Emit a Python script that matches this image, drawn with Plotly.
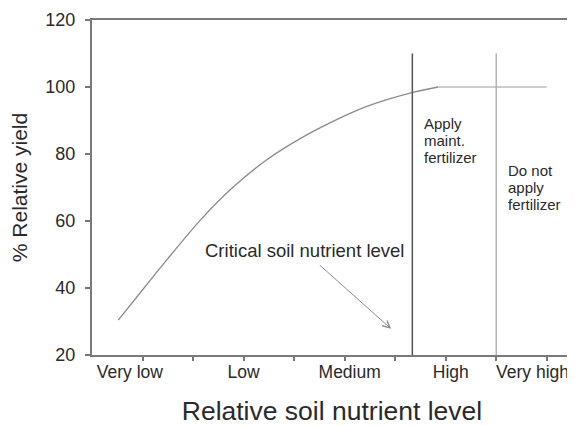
import plotly.graph_objects as go

# ---- data ----
curve_x = [0.52, 1.03, 1.48, 2.14, 2.80, 3.46, 4.12, 4.78, 5.44, 6.33, 6.85]
curve_y = [30.4, 40.0, 48.4, 60.2, 70.2, 78.3, 84.6, 89.8, 94.2, 98.3, 100.0]
plateau_x = [6.85, 9.0]
plateau_y = [100, 100]
critical_x = 6.34
maint_x = 8.0
boundary_y = [20, 110]
minor_ticks = [1, 2, 3, 4, 5, 6, 7, 8, 9]
cat_pos = [0.75, 3.0, 5.1, 7.1, 8.72]
cat_labels = ["Very low", "Low", "Medium", "High", "Very high"]
y_ticks = [20, 40, 60, 80, 100, 120]
apply_lines = ["Apply", "maint.", "fertilizer"]
apply_y = [89.25, 84.03, 78.81]
donot_lines = ["Do not", "apply", "fertilizer"]
donot_y = [75.22, 70.0, 64.78]

FONT = "Liberation Sans, Arial, sans-serif"
TXT = "#2a2a2a"

fig = go.Figure()
fig.add_trace(go.Scatter(x=curve_x, y=curve_y, mode="lines", line_shape="spline",
                         line=dict(color="#8a8a8a", width=1.3, smoothing=0.8),
                         showlegend=False, hoverinfo="skip"))
fig.add_trace(go.Scatter(x=plateau_x, y=plateau_y, mode="lines",
                         line=dict(color="#bdbdbd", width=1.3), showlegend=False, hoverinfo="skip"))
fig.add_trace(go.Scatter(x=[critical_x, critical_x], y=boundary_y, mode="lines",
                         line=dict(color="#555555", width=1.5), showlegend=False, hoverinfo="skip"))
fig.add_trace(go.Scatter(x=[maint_x, maint_x], y=boundary_y, mode="lines",
                         line=dict(color="#a8a8a8", width=1.3), showlegend=False, hoverinfo="skip"))
# dummy trace on xaxis2 for category labels
fig.add_trace(go.Scatter(x=[cat_pos[0]], y=[None], xaxis="x2", mode="markers",
                         showlegend=False, hoverinfo="skip"))

fig.add_annotation(x=5.92, y=27.8, ax=4.48, ay=47.2, axref="x", ayref="y", xref="x", yref="y",
                   text="", showarrow=True, arrowhead=5, arrowsize=1.4, arrowwidth=1,
                   arrowcolor="#8a8a8a")
fig.add_annotation(x=4.2, y=51.3, xref="x", yref="y", text="Critical soil nutrient level",
                   showarrow=False, xanchor="center", yanchor="middle",
                   font=dict(family=FONT, size=18.5, color=TXT))
for t, yy in zip(apply_lines, apply_y):
    fig.add_annotation(x=6.55, y=yy, xref="x", yref="y", text=t, showarrow=False,
                       xanchor="left", yanchor="middle", borderpad=0,
                       font=dict(family=FONT, size=15, color=TXT))
for t, yy in zip(donot_lines, donot_y):
    fig.add_annotation(x=8.21, y=yy, xref="x", yref="y", text=t, showarrow=False,
                       xanchor="left", yanchor="middle", borderpad=0,
                       font=dict(family=FONT, size=15, color=TXT))

fig.update_layout(
    width=567, height=418,
    margin=dict(l=84, r=3, t=12, b=71, autoexpand=False),
    paper_bgcolor="white", plot_bgcolor="white",
    showlegend=False,
    xaxis=dict(range=[0, 9.5], tickvals=minor_ticks, showticklabels=False,
               ticks="outside", ticklen=4, tickcolor="#777", tickwidth=1.5,
               showline=True, linecolor="#7a7a7a", linewidth=2, mirror=True,
               showgrid=False, zeroline=False, fixedrange=True, automargin=False),
    xaxis2=dict(range=[0, 9.5], overlaying="x", side="bottom", anchor="y",
                tickvals=cat_pos, ticktext=cat_labels, ticks="", showline=False,
                showgrid=False, zeroline=False, automargin=False, ticklabelstandoff=4,
                tickfont=dict(family=FONT, size=17.5, color=TXT),
                title=dict(text="Relative soil nutrient level", standoff=20,
                           font=dict(family=FONT, size=26.5, color=TXT))),
    yaxis=dict(range=[20, 120], tickvals=y_ticks, ticks="outside", ticklen=5,
               tickcolor="#777", tickwidth=1.5, ticklabelstandoff=6,
               showline=True, linecolor="#7a7a7a", linewidth=2, mirror=True,
               showgrid=False, zeroline=False, automargin=False,
               tickfont=dict(family=FONT, size=18, color=TXT),
               title=dict(text="% Relative yield", standoff=12,
                          font=dict(family=FONT, size=21, color=TXT))),
)

fig.write_html("out.html")
